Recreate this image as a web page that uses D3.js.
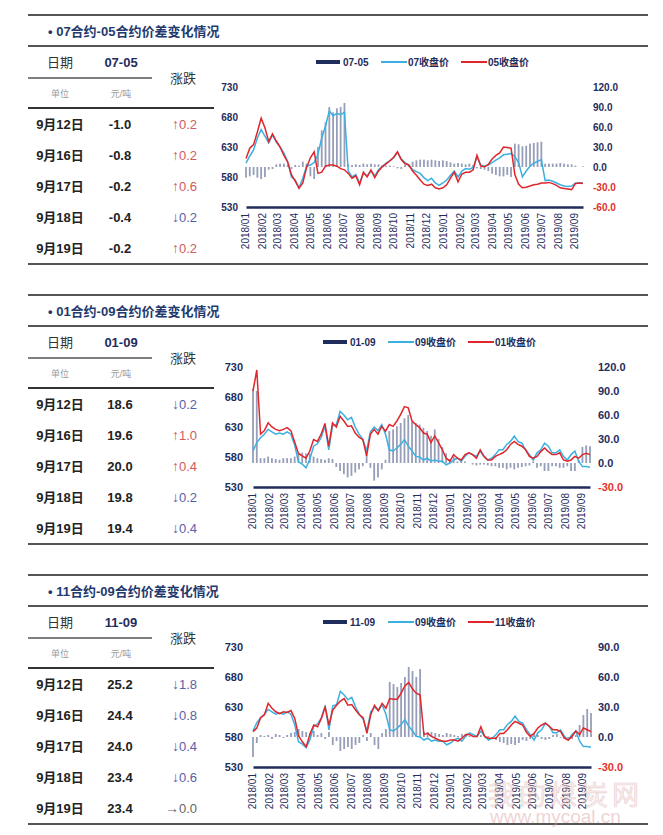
<!DOCTYPE html>
<html>
<head>
<meta charset="utf-8">
<script src="https://cdn.jsdelivr.net/npm/d3@7"></script>
<style>
  body { margin: 0; background: #fff; }
  svg { display: block; font-family: "Liberation Sans", Arial, "Noto Sans CJK SC", sans-serif; }
</style>
</head>
<body>
<svg id="chart" width="663" height="835"></svg>
<script>
// ---- data (weekly samples, 2018-01-02 .. 2019-09-17) ----
const monthLabels = ["2018/01", "2018/02", "2018/03", "2018/04", "2018/05", "2018/06", "2018/07",
  "2018/08", "2018/09", "2018/10", "2018/11", "2018/12", "2019/01", "2019/02", "2019/03",
  "2019/04", "2019/05", "2019/06", "2019/07", "2019/08", "2019/09"];
const firstWeek = new Date(2018, 0, 2);

const close07 = [
  603, 615, 625, 645, 659, 648, 637, 650, 638, 630,
  620, 606, 580, 575, 562, 578, 598, 600, 604, 618,
  645, 665, 690, 682, 686, 684, 688, 590, 580, 584,
  570, 586, 582, 590, 582, 592, 598, 603, 607, 612,
  621, 610, 604, 600, 592, 589, 586, 579, 574, 578,
  570, 566, 570, 575, 583, 590, 580, 590, 594, 593,
  596, 614, 600, 598, 600, 604, 608, 612, 617, 618,
  619, 614, 604, 580, 590, 598, 603, 606, 609, 574,
  575, 573, 570, 567, 565, 564, 565, 570, 570, 570];
const close05 = [
  611, 628, 634, 655, 678, 662, 639, 652, 640, 630,
  616, 605, 584, 573, 561, 570, 596, 612, 622, 586,
  588, 598, 600, 600, 598, 594, 592, 586, 578, 582,
  567, 588, 580, 592, 579, 590, 597, 602, 607, 613,
  622, 609, 602, 600, 590, 583, 575, 568, 566, 568,
  562, 560, 562, 567, 578, 588, 572, 585, 588, 588,
  592, 616, 598, 597, 601, 610, 616, 620, 630, 629,
  628, 584, 568, 562, 563, 565, 567, 568, 570, 570,
  571, 569, 566, 562, 561, 560, 559, 569, 570, 569];
const spread0705 = [
  -16, -14, -12, -16, -18, -15, -4, -3, 4, 5,
  5, 3, -3, 3, 2, 8, 5, -14, -18, 30,
  55, 67, 90, 82, 88, 90, 96, 4, 3, 4,
  3, 5, 4, 5, 4, 4, 3, 2, 2, 1,
  -2, -3, 3, 2, 8, 10, 11, 11, 10, 11,
  10, 9, 10, 9, 7, 5, 6, 5, 4, 5,
  3, -2, -3, -4, -6, -10, -12, -14, -14, -12,
  -15, 35, 34, 31, 32, 35, 36, 37, 38, 5,
  5, 5, 5, 6, 5, 4, 4, 2, 0, 1];

const close09 = [
  590, 604, 612, 618, 626, 622, 618, 620, 618, 622,
  618, 600, 572, 568, 562, 576, 598, 602, 612, 632,
  592, 632, 634, 656, 650, 642, 646, 630, 618, 610,
  590, 622, 630, 624, 634, 618, 592, 590, 595, 601,
  609, 598, 590, 581, 580, 575, 578, 573, 575, 573,
  573, 567, 570, 575, 578, 573, 581, 587, 584, 581,
  590, 581, 575, 578, 584, 592, 592, 601, 606, 615,
  606, 603, 592, 584, 575, 587, 592, 603, 598, 587,
  587, 592, 581, 575, 584, 590, 573, 564, 564, 563];
const close01 = [
  690, 725, 618, 624, 637, 630, 626, 624, 626, 629,
  624, 605, 586, 582, 578, 590, 609, 606, 618, 636,
  598, 637, 630, 648, 640, 631, 632, 620, 613, 609,
  582, 618, 626, 618, 631, 623, 634, 631, 640, 651,
  664, 662, 640, 634, 629, 620, 618, 604, 615, 604,
  592, 578, 573, 584, 578, 575, 584, 587, 584, 578,
  592, 581, 575, 575, 581, 584, 587, 592, 601, 606,
  601, 598, 592, 581, 578, 581, 589, 595, 589, 584,
  584, 587, 575, 573, 575, 581, 578, 584, 586, 584];
const spread0109 = [
  92, 90, 6, 6, 8, 6, 5, 4, 6, 6,
  6, 8, 12, 13, 12, 12, 8, 6, 5, 4,
  6, 5, -5, -10, -14, -18, -16, -12, -8, -4,
  10, -6, -22, -18, -8, 4, 40, 42, 46, 50,
  56, 60, 52, 50, 48, 44, 40, 34, 42, 30,
  20, 12, 5, 8, 2, 3, 2, 0, -2, -3,
  -2, -2, -3, -4, -4, -6, -6, -8, -6, -8,
  -6, -5, -4, -3, 2, -6, -4, -10, -10, -4,
  -4, -6, -6, -4, -10, -10, 4, 20, 22, 21];

const close11 = [
  589, 595, 612, 617, 636, 628, 622, 619, 622, 621,
  624, 611, 582, 572, 564, 585, 600, 597, 611, 630,
  600, 625, 633, 640, 644, 633, 634, 625, 617, 612,
  586, 617, 633, 624, 636, 628, 644, 643, 643, 653,
  665, 671, 660, 653, 650, 584, 586, 581, 578, 575,
  573, 573, 575, 575, 573, 578, 584, 584, 581, 581,
  597, 581, 578, 578, 578, 586, 586, 592, 600, 606,
  603, 600, 588, 581, 586, 595, 600, 603, 598, 592,
  592, 589, 578, 575, 581, 590, 584, 595, 592, 589];
const spread1109 = [
  -20, -6, 2, 1, 2, -2, 3, 2, -1, 2,
  4, 5, 8, 6, 5, 4, 6, 2, 4, -2,
  5, -8, -4, -14, -12, -10, -12, -8, -6, 2,
  -4, 4, -8, -12, 4, 8, 55, 53, 50, 54,
  60, 70, 66, 60, 68, 5, 5, 5, 4, 3,
  2, 4, 3, 2, 1, 3, 2, 1, 0, 1,
  2, 0, 1, -1, -3, -5, -6, -8, -7, -8,
  -6, -3, -4, -2, 3, 2, -2, -3, -2, 2,
  3, -1, -2, -1, -2, 2, 12, 22, 28, 24];

// table data
const rowDates = ["9月12日", "9月16日", "9月17日", "9月18日", "9月19日"];
const table0705 = [-1.0, -0.8, -0.2, -0.4, -0.2];
const change0705 = [0.2, 0.2, 0.6, -0.2, 0.2];
const table0109 = [18.6, 19.6, 20.0, 19.8, 19.4];
const change0109 = [-0.2, 1.0, 0.4, -0.2, -0.4];
const table1109 = [25.2, 24.4, 24.0, 23.4, 23.4];
const change1109 = [-1.8, -0.8, -0.4, -0.6, 0.0];

// ---- layout / styles ----
const navy = "#1f2d5c";
const lineBlue = "#3bb0e0";
const lineRed = "#e0262b";
const barFill = "#7c86a6";
const upColor = "#cf5b5e";
const downColor = "#5b5ea8";

const panels = [
  { title: "• 07合约-05合约价差变化情况", spreadName: "07-05", farName: "07收盘价", nearName: "05收盘价",
    far: close07, near: close05, spread: spread0705, rightMin: -60, rightMax: 120,
    values: table0705, changes: change0705, x0: 246, x1: 583, leftX: 238, rightX: 593, legendX: 316, tickFs: 10 },
  { title: "• 01合约-09合约价差变化情况", spreadName: "01-09", farName: "09收盘价", nearName: "01收盘价",
    far: close09, near: close01, spread: spread0109, rightMin: -30, rightMax: 120,
    values: table0109, changes: change0109, x0: 253, x1: 590, leftX: 243, rightX: 598, legendX: 323, tickFs: 11 },
  { title: "• 11合约-09合约价差变化情况", spreadName: "11-09", farName: "09收盘价", nearName: "11收盘价",
    far: close09, near: close11, spread: spread1109, rightMin: -30, rightMax: 90,
    values: table1109, changes: change1109, x0: 253, x1: 591, leftX: 243, rightX: 598, legendX: 323, tickFs: 11 }
];

const svg = d3.select("#chart");
svg.append("rect").attr("width", 663).attr("height", 835).attr("fill", "#fff");

const weeks = close09.map((_, i) => d3.timeDay.offset(firstWeek, 7 * i));
const monthTicks = monthLabels.map(d3.timeParse("%Y/%m"));

panels.forEach((p, k) => {
  const g = svg.append("g").attr("transform", "translate(0," + k * 280 + ")");
  drawTable(g, p);
  drawChart(g, p);
});

function hline(g, x1, x2, y, color, w) {
  g.append("line").attr("x1", x1).attr("x2", x2).attr("y1", y).attr("y2", y)
    .attr("stroke", color).attr("stroke-width", w);
}

function drawTable(g, p) {
  hline(g, 28, 648, 15, "#555", 2);
  hline(g, 28, 648, 46, "#555", 2);
  hline(g, 28, 648, 264, "#555", 2);
  hline(g, 28, 152, 78, "#555", 1.5);
  hline(g, 28, 214, 108, "#333", 2);

  g.append("text").attr("x", 48).attr("y", 31).attr("dy", "0.35em")
    .attr("font-size", 13).attr("font-weight", "bold").attr("fill", "#1f3a6e")
    .text(p.title);

  const head = [
    { t: "日期", x: 60, y: 62, c: "#333", w: "normal", s: 13 },
    { t: p.spreadName, x: 121, y: 62, c: navy, w: "bold", s: 13 },
    { t: "涨跌", x: 183, y: 78, c: "#333", w: "normal", s: 13 },
    { t: "单位", x: 60, y: 94, c: "#999", w: "normal", s: 9 },
    { t: "元/吨", x: 121, y: 94, c: "#999", w: "normal", s: 9 }
  ];
  g.selectAll("text.head").data(head).join("text").attr("class", "head")
    .attr("x", d => d.x).attr("y", d => d.y).attr("dy", "0.35em")
    .attr("text-anchor", "middle").attr("font-size", d => d.s)
    .attr("font-weight", d => d.w).attr("fill", d => d.c).text(d => d.t);

  const rowY = d3.scalePoint().domain(rowDates).range([124, 248]);

  g.selectAll("text.date").data(rowDates).join("text").attr("class", "date")
    .attr("x", 60).attr("y", d => rowY(d)).attr("dy", "0.35em").attr("text-anchor", "middle")
    .attr("font-size", 13).attr("font-weight", "bold").attr("fill", "#222").text(d => d);

  g.selectAll("text.val").data(p.values).join("text").attr("class", "val")
    .attr("x", 120).attr("y", (d, i) => rowY(rowDates[i])).attr("dy", "0.35em")
    .attr("text-anchor", "middle").attr("font-size", 13).attr("font-weight", "bold")
    .attr("fill", "#222").text(d => d.toFixed(1));

  const col = d => d > 0 ? upColor : d < 0 ? downColor : "#666";
  g.selectAll("text.arrow").data(p.changes).join("text").attr("class", "arrow")
    .attr("x", 179).attr("y", (d, i) => rowY(rowDates[i])).attr("dy", "0.36em")
    .attr("text-anchor", "end").attr("font-size", 14).attr("fill", col)
    .text(d => d > 0 ? "↑" : d < 0 ? "↓" : "→");
  g.selectAll("text.chg").data(p.changes).join("text").attr("class", "chg")
    .attr("x", 179).attr("y", (d, i) => rowY(rowDates[i])).attr("dy", "0.35em")
    .attr("font-size", 13).attr("fill", col).text(d => Math.abs(d).toFixed(1));
}

function drawChart(g, p) {
  const x = d3.scaleTime().domain([weeks[0], weeks[weeks.length - 1]]).range([p.x0, p.x1]);
  const yL = d3.scaleLinear().domain([530, 730]).range([207, 87]);
  const yR = d3.scaleLinear().domain([p.rightMin, p.rightMax]).range([207, 87]);

  // bars (spread, right axis)
  g.append("g").selectAll("rect").data(p.spread).join("rect")
    .attr("x", (d, i) => x(weeks[i]) - 0.9).attr("width", 1.8)
    .attr("y", d => yR(Math.max(0, d)))
    .attr("height", d => Math.abs(yR(d) - yR(0)))
    .attr("fill", barFill).attr("opacity", 0.8);

  const line = d3.line().x((d, i) => x(weeks[i])).y(d => yL(d));
  g.append("path").datum(p.far).attr("d", line).attr("fill", "none")
    .attr("stroke", lineBlue).attr("stroke-width", 1.5);
  g.append("path").datum(p.near).attr("d", line).attr("fill", "none")
    .attr("stroke", lineRed).attr("stroke-width", 1.5);

  // x axis
  const xAxisGroup = g.append("g").attr("transform", "translate(0,207)")
    .call(d3.axisBottom(x).tickValues(monthTicks).tickFormat(d3.timeFormat("%Y/%m"))
      .tickSize(0).tickSizeOuter(0));
  xAxisGroup.select(".domain").attr("stroke", navy).attr("stroke-width", 2.5);
  xAxisGroup.selectAll("text").attr("transform", "rotate(-90)")
    .attr("x", -6).attr("y", 0).attr("dy", "0.35em").attr("text-anchor", "end")
    .attr("font-size", 10).attr("fill", navy)
    .attr("font-family", "\"Liberation Sans\", Arial, sans-serif");

  // left axis
  const yAxisGroup = g.append("g").attr("transform", "translate(" + p.leftX + ",0)")
    .call(d3.axisLeft(yL).tickValues([530, 580, 630, 680, 730]).tickSize(0).tickPadding(0));
  yAxisGroup.select(".domain").remove();
  yAxisGroup.selectAll("text").attr("font-size", p.tickFs).attr("font-weight", "bold")
    .attr("fill", navy).attr("font-family", "\"Liberation Sans\", Arial, sans-serif");

  // right axis
  const rAxisGroup = g.append("g").attr("transform", "translate(" + p.rightX + ",0)")
    .call(d3.axisRight(yR).tickValues(d3.range(p.rightMin, p.rightMax + 1, 30))
      .tickFormat(d => d.toFixed(1)).tickSize(0).tickPadding(0));
  rAxisGroup.select(".domain").remove();
  rAxisGroup.selectAll("text").attr("font-size", p.tickFs).attr("font-weight", "bold")
    .attr("fill", d => d < 0 ? "#e0302a" : navy)
    .attr("font-family", "\"Liberation Sans\", Arial, sans-serif");

  // legend
  const lg = g.append("g").attr("transform", "translate(" + p.legendX + ",62)")
    .attr("font-size", 10).attr("font-weight", "bold").attr("fill", navy);
  lg.append("rect").attr("x", 0).attr("y", -2).attr("width", 24).attr("height", 4).attr("fill", navy);
  lg.append("text").attr("x", 27).attr("dy", "0.35em").text(p.spreadName);
  lg.append("line").attr("x1", 65).attr("x2", 91).attr("stroke", lineBlue).attr("stroke-width", 2);
  lg.append("text").attr("x", 92).attr("dy", "0.35em").text(p.farName);
  lg.append("line").attr("x1", 145).attr("x2", 171).attr("stroke", lineRed).attr("stroke-width", 2);
  lg.append("text").attr("x", 172).attr("dy", "0.35em").text(p.nearName);
}

// watermark
const wm = svg.append("g").attr("opacity", 0.5);
wm.append("text").attr("x", 488).attr("y", 805).attr("font-size", 27).attr("letter-spacing", 4)
  .attr("font-family", "\"Noto Sans CJK SC\", sans-serif")
  .attr("fill", "#f1dede").attr("stroke", "#d9a3a3").attr("stroke-width", 0.6).text("我的煤炭网");
wm.append("text").attr("x", 490).attr("y", 823).attr("font-size", 19)
  .attr("fill", "#e3a9a9").text("www.mycoal.cn");
</script>
</body>
</html>
